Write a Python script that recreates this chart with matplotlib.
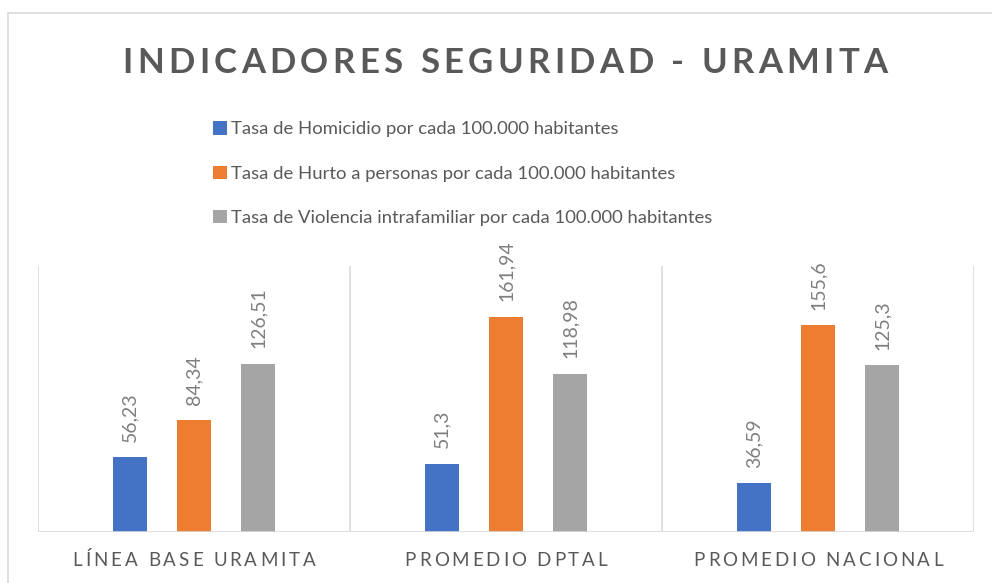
import matplotlib
matplotlib.use("Agg")
import matplotlib.pyplot as plt
import matplotlib.patches as patches
from matplotlib.font_manager import FontProperties
from matplotlib.transforms import IdentityTransform
import numpy as np

categorias = ["LÍNEA BASE URAMITA", "PROMEDIO DPTAL", "PROMEDIO NACIONAL"]
series = [
    "Tasa de Homicidio por cada 100.000 habitantes",
    "Tasa de Hurto a personas por cada 100.000 habitantes",
    "Tasa de Violencia intrafamiliar por cada 100.000 habitantes",
]
homicidio = [56.23, 51.3, 36.59]
hurto = [84.34, 161.94, 155.6]
violencia = [126.51, 118.98, 125.3]
colores = ["#4472c4", "#ed7d31", "#a5a5a5"]
titulo = "INDICADORES SEGURIDAD - URAMITA"

W, H = 992, 583
texto = "#595959"
rejilla = "#d9d9d9"
FUENTE = ["Lato", "DejaVu Sans"]

fig = plt.figure(figsize=(W / 100, H / 100), dpi=100)
ax = fig.add_axes([38 / W, 1 - 532 / H, (974 - 38) / W, (532 - 266) / H])


def spaced_text(cx, cy, s, track, size, weight="normal", color=texto):
    # texto con espaciado entre letras, en pixeles
    r = fig.canvas.get_renderer()
    prop = FontProperties(family=FUENTE, size=size, weight=weight)

    def w(t):
        return r.get_text_width_height_descent(t, prop, ismath=False)[0]

    base = w("II")
    adv = [w("I" + c + "I") - base for c in s]
    total = sum(adv) + track * (len(s) - 1)
    x = cx - total / 2
    for c, a in zip(s, adv):
        fig.text(x, cy, c, transform=IdentityTransform(), fontproperties=prop,
                 color=color, ha="left", va="baseline")
        x += a + track


x = np.arange(len(categorias))
off = 0.205
ancho = 0.109
barras = []
for i, (vals, col) in enumerate(zip([homicidio, hurto, violencia], colores)):
    b = ax.bar(x + (i - 1) * off, vals, ancho, color=col, label=series[i], zorder=3)
    barras.append(b)
    for xi, v in zip(x + (i - 1) * off, vals):
        ax.annotate(str(v).replace(".", ","), (xi, v), xytext=(0, 11),
                    textcoords="offset points", rotation=90, ha="center",
                    va="bottom", fontsize=14, color="#7f7f7f", family=FUENTE)

ax.set_xlim(-0.5, 2.5)
ax.set_ylim(0, 200)
for s in ax.spines.values():
    s.set_visible(False)
ax.set_xticks([])
ax.set_yticks([])
for xs in [-0.5, 0.5, 1.5, 2.5]:
    ax.axvline(xs, color=rejilla, lw=1.2, zorder=1)
ax.axhline(0, color=rejilla, lw=1.2, zorder=4)

# etiquetas de categoria
for xi, cat in zip(x, categorias):
    cx = ax.transData.transform((xi, 0))[0]
    spaced_text(cx, H - 566, cat, 2.9, 13.5)

spaced_text(505, H - 73, titulo, 4.3, 25, weight="bold")

leg = fig.legend(handles=barras, labels=series, loc="upper left",
                 bbox_to_anchor=(204 / W, 1 - 112 / H), frameon=False,
                 prop=FontProperties(family=FUENTE, size=13.3),
                 handlelength=0.75, handleheight=0.75, handletextpad=0.2,
                 labelspacing=1.52, borderpad=0, labelcolor=texto)

fig.add_artist(patches.Rectangle((8 / W, -0.1), 1.2, 1.1 - 13 / H + 0.0,
                                 transform=fig.transFigure, fill=False,
                                 ec=rejilla, lw=1.2))

fig.savefig("out.png", dpi=100)
